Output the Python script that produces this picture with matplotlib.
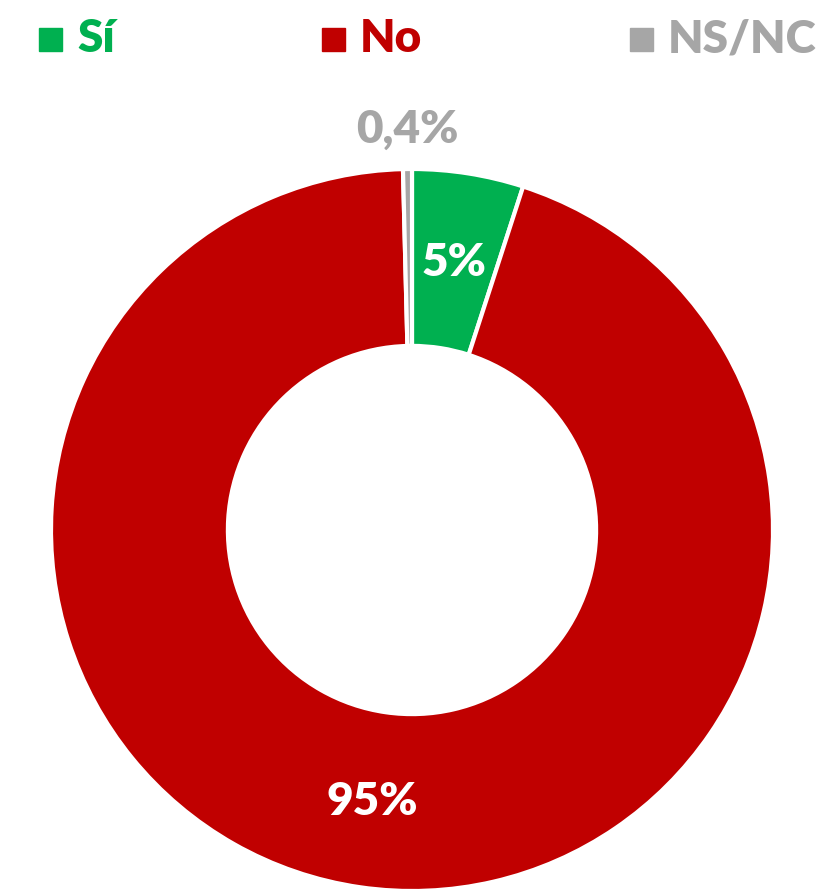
import matplotlib.pyplot as plt
import numpy as np

plt.rcParams['font.family'] = ['Lato', 'DejaVu Sans']

categories = ['Sí', 'No', 'NS/NC']
values = [5, 95, 0.4]
value_labels = ['5%', '95%', '0,4%']
colors = ['#00B050', '#C00000', '#A6A6A6']
label_colors = ['white', 'white', '#A6A6A6']
label_dist = [0.75, 0.76, 1.11]

W, H = 823, 889
fig = plt.figure(figsize=(W / 100, H / 100), dpi=100)
ax = fig.add_axes([0, 0, 1, 1])

cx, cy, R = 412, H - 530, 361
wedges, _ = ax.pie(values, colors=colors, startangle=90, counterclock=False,
                   center=(cx, cy), radius=R, frame=True,
                   wedgeprops=dict(width=R * 0.49, edgecolor='white', linewidth=3))
ax.set_xlim(0, W)
ax.set_ylim(0, H)
ax.set_aspect('equal')
ax.axis('off')

# etiquetas de porcentaje en el ángulo medio de cada sector
for w, lab, col, d in zip(wedges, value_labels, label_colors, label_dist):
    ang = np.radians((w.theta1 + w.theta2) / 2)
    x = cx + d * R * np.cos(ang)
    y = cy + d * R * np.sin(ang)
    ax.text(x, y, lab, color=col, fontsize=33, fontweight='heavy',
            ha='center', va='center')

# leyenda superior
legend_x = [39, 322, 630]
for x0, name, col in zip(legend_x, categories, colors):
    ax.add_patch(plt.Rectangle((x0, H - 51), 23, 23, color=col))
    ax.text(x0 + 38, H - 39, name, color=col, fontsize=33, fontweight='heavy',
            ha='left', va='center')

fig.savefig('out.png', dpi=100)
